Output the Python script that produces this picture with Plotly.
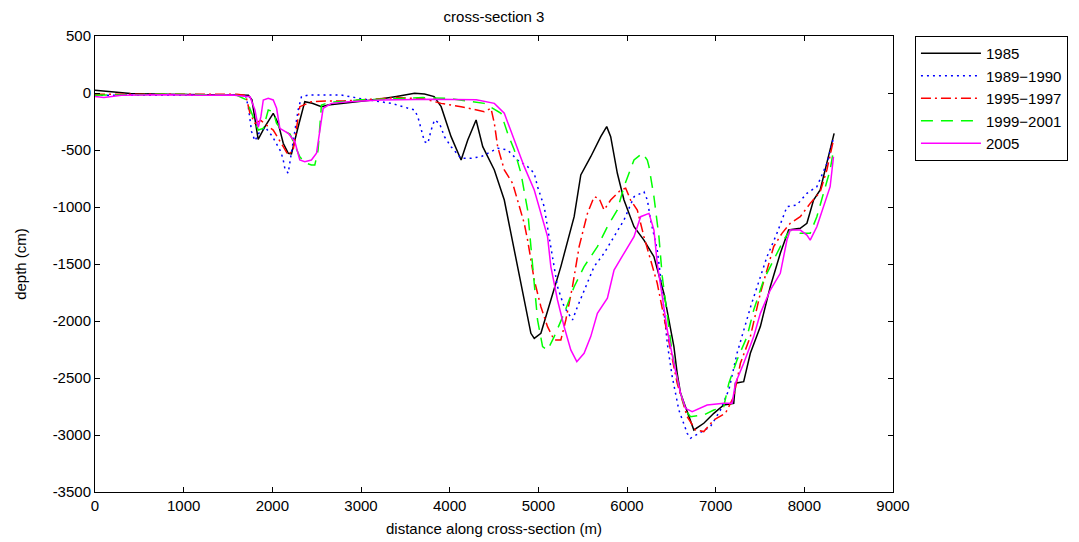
import plotly.graph_objects as go

series_names = ["1985", "1989\u22121990", "1995\u22121997", "1999\u22122001", "2005"]

dist_1985 = [0, 150, 400, 800, 1200, 1600, 1730, 1770, 1800, 1840, 1915, 2010, 2066, 2123, 2180, 2216, 2290, 2366, 2450, 2554, 2629, 2800, 3000, 3200, 3400, 3604, 3716, 3825, 3904, 4016, 4129, 4204, 4298, 4373, 4504, 4616, 4691, 4766, 4841, 4916, 4954, 5029, 5141, 5254, 5404, 5479, 5591, 5704, 5771, 5816, 5891, 5966, 6079, 6191, 6304, 6416, 6529, 6566, 6604, 6716, 6754, 6866, 6979, 7091, 7204, 7223, 7316, 7391, 7504, 7616, 7729, 7823, 7954, 8029, 8104, 8179, 8254, 8336]
depth_1985 = [25, 15, -5, -10, -12, -15, -20, -60, -200, -406, -298, -178, -266, -441, -529, -535, -300, -76, -90, -120, -105, -90, -70, -55, -30, -3, -9, -32, -120, -383, -588, -412, -237, -471, -675, -939, -1231, -1523, -1816, -2108, -2152, -2108, -1816, -1523, -1085, -719, -559, -383, -295, -383, -704, -939, -1173, -1290, -1436, -1757, -2225, -2459, -2634, -2868, -2956, -2897, -2810, -2737, -2722, -2546, -2532, -2283, -2049, -1699, -1406, -1202, -1187, -1143, -939, -851, -617, -354]

dist_1989 = [0, 400, 800, 1200, 1600, 1700, 1729, 1766, 1804, 1850, 1920, 2000, 2096, 2123, 2141, 2179, 2220, 2291, 2329, 2404, 2779, 3000, 3341, 3604, 3641, 3679, 3716, 3754, 3791, 3829, 3885, 3941, 4016, 4129, 4241, 4354, 4466, 4541, 4654, 4766, 4879, 4954, 4991, 5066, 5104, 5179, 5216, 5291, 5385, 5441, 5516, 5629, 5741, 5854, 5966, 6079, 6191, 6230, 6266, 6341, 6379, 6416, 6454, 6510, 6585, 6679, 6716, 6800, 6941, 7054, 7150, 7241, 7400, 7579, 7691, 7804, 7916, 8029, 8141, 8254, 8333]
depth_1989 = [-20, -20, -15, -15, -20, -30, -120, -339, -420, -350, -300, -380, -515, -588, -661, -704, -500, -149, -32, -18, -18, -50, -91, -149, -208, -325, -427, -441, -325, -237, -266, -383, -471, -573, -573, -559, -515, -485, -500, -588, -646, -704, -822, -997, -1180, -1523, -1699, -1875, -1991, -1875, -1728, -1523, -1406, -1260, -1114, -910, -866, -939, -1114, -1377, -1611, -1904, -2196, -2489, -2781, -2985, -3029, -2990, -2927, -2781, -2600, -2283, -1860, -1436, -1231, -997, -982, -880, -822, -620, -383]

dist_1995 = [0, 400, 800, 1200, 1600, 1700, 1748, 1804, 1870, 1954, 2010, 2123, 2179, 2235, 2273, 2310, 2441, 2600, 2800, 3000, 3400, 3700, 3904, 4129, 4316, 4391, 4466, 4504, 4541, 4616, 4710, 4766, 4841, 4879, 4954, 5029, 5104, 5179, 5254, 5310, 5385, 5460, 5554, 5629, 5685, 5741, 5816, 5929, 5985, 6041, 6116, 6191, 6266, 6341, 6416, 6491, 6566, 6679, 6773, 6866, 6979, 7110, 7204, 7279, 7391, 7504, 7579, 7654, 7748, 7841, 7954, 8066, 8179, 8254, 8329]
depth_1995 = [-10, -10, -5, -10, -10, -20, -178, -266, -240, -295, -325, -471, -544, -500, -325, -120, -76, -70, -70, -60, -40, -50, -91, -120, -149, -164, -134, -266, -471, -675, -792, -939, -1143, -1290, -1640, -1875, -2050, -2167, -2167, -1991, -1699, -1348, -1056, -910, -924, -1026, -939, -851, -836, -939, -1026, -1260, -1465, -1669, -1962, -2254, -2547, -2839, -2956, -2970, -2868, -2810, -2664, -2371, -2137, -1757, -1553, -1348, -1231, -1143, -1085, -968, -866, -675, -412]

dist_1999 = [0, 400, 800, 1200, 1600, 1710, 1766, 1841, 1898, 1954, 2010, 2048, 2100, 2200, 2310, 2366, 2441, 2479, 2516, 2554, 2650, 2800, 3000, 3400, 3700, 3979, 4391, 4579, 4654, 4729, 4804, 4879, 4916, 4954, 4991, 5048, 5104, 5179, 5291, 5404, 5516, 5666, 5779, 5891, 5966, 6079, 6173, 6229, 6248, 6304, 6360, 6398, 6454, 6510, 6585, 6660, 6716, 6866, 6979, 7091, 7148, 7241, 7354, 7429, 7541, 7654, 7766, 7841, 7954, 8066, 8141, 8216, 8291, 8329]
depth_1999 = [-20, -15, -10, -15, -20, -61, -178, -325, -310, -149, -164, -266, -320, -360, -560, -610, -632, -632, -500, -105, -80, -75, -60, -45, -40, -47, -91, -178, -354, -500, -704, -1026, -1348, -1699, -1991, -2225, -2254, -2137, -1933, -1699, -1523, -1348, -1173, -1026, -822, -588, -529, -588, -646, -910, -1260, -1611, -1962, -2283, -2576, -2781, -2839, -2825, -2781, -2752, -2547, -2342, -2137, -1904, -1640, -1465, -1290, -1202, -1231, -1231, -1085, -880, -675, -500]

dist_2005 = [0, 100, 300, 800, 1200, 1541, 1748, 1804, 1841, 1871, 1898, 1954, 2010, 2048, 2085, 2179, 2254, 2310, 2366, 2441, 2498, 2535, 2573, 2666, 2854, 3229, 3800, 4300, 4504, 4616, 4729, 4841, 4954, 5066, 5104, 5141, 5216, 5291, 5366, 5434, 5516, 5591, 5666, 5779, 5854, 5966, 6079, 6154, 6248, 6304, 6341, 6398, 6454, 6529, 6604, 6660, 6735, 6904, 7091, 7185, 7223, 7316, 7429, 7504, 7616, 7729, 7804, 7841, 7954, 8029, 8066, 8141, 8216, 8291, 8329]
depth_2005 = [-30, -40, -20, -15, -20, -18, -32, -149, -300, -208, -61, -47, -61, -134, -310, -354, -427, -588, -602, -588, -529, -325, -134, -91, -76, -61, -55, -60, -91, -178, -412, -646, -851, -1143, -1260, -1523, -1816, -2050, -2254, -2357, -2283, -2137, -1933, -1800, -1553, -1406, -1260, -1085, -1056, -1202, -1494, -1787, -2079, -2371, -2634, -2766, -2795, -2737, -2722, -2722, -2546, -2371, -2137, -1933, -1728, -1582, -1290, -1202, -1202, -1246, -1290, -1173, -997, -822, -559]

x_ticks = [0, 1000, 2000, 3000, 4000, 5000, 6000, 7000, 8000, 9000]
y_ticks = [500, 0, -500, -1000, -1500, -2000, -2500, -3000, -3500]

colors = ["#000000", "#0000ff", "#ff0000", "#00ff00", "#ff00ff"]
dashes = ["solid", "2px,4px", "10px,4px,2px,4px", "12px,8px", "solid"]
all_x = [dist_1985, dist_1989, dist_1995, dist_1999, dist_2005]
all_y = [depth_1985, depth_1989, depth_1995, depth_1999, depth_2005]

FONT = "Liberation Sans, Arial, sans-serif"

fig = go.Figure()
for name, xs, ys, c, d in zip(series_names, all_x, all_y, colors, dashes):
    fig.add_trace(go.Scatter(x=xs, y=ys, mode="lines", name=name,
                             line=dict(color=c, dash=d, width=1.5)))

axis_common = dict(showgrid=False, zeroline=False, showline=True, linecolor="black",
                   linewidth=1, mirror="ticks", ticks="inside", ticklen=5,
                   tickcolor="black", tickfont=dict(family=FONT, size=15, color="black"))

fig.update_layout(
    width=1079, height=542,
    margin=dict(l=85, r=194, t=28, b=58),
    paper_bgcolor="white", plot_bgcolor="white",
    font=dict(family=FONT, size=15, color="black"),
    title=dict(text="cross-section 3", x=0.5, xref="paper", y=1 - 9/542, yref="container",
               yanchor="middle", font=dict(family=FONT, size=15, color="black")),
    xaxis=dict(range=[0, 9000], tickvals=x_ticks, ticktext=[str(v) for v in x_ticks],
               title=dict(text="distance along cross-section (m)", standoff=10,
                          font=dict(family=FONT, size=15)), **axis_common),
    yaxis=dict(range=[-3500, 500], tickvals=y_ticks, ticktext=[str(v) for v in y_ticks],
               title=dict(text="depth (cm)", standoff=22, font=dict(family=FONT, size=15)),
               **axis_common),
    legend=dict(x=1.0275, y=1, xanchor="left", yanchor="top", bordercolor="black",
                borderwidth=1, bgcolor="white", font=dict(family=FONT, size=15),
                itemwidth=60, tracegroupgap=0),
    showlegend=True,
)

fig.write_html("out.html")
